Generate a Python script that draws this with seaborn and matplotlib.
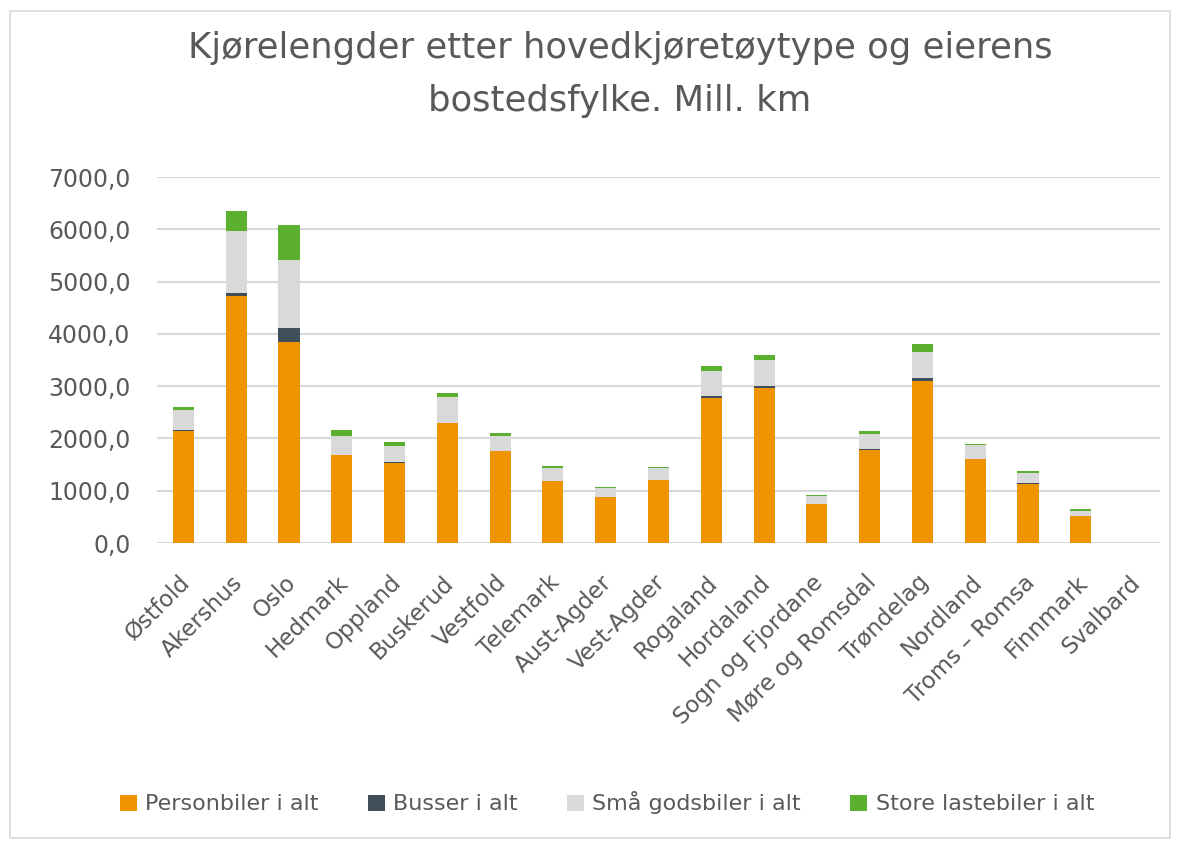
import numpy as np
import pandas as pd
import matplotlib
matplotlib.use("Agg")
import matplotlib.pyplot as plt
import matplotlib.patches as mpatches
import matplotlib.transforms as mtrans
from matplotlib.ticker import FuncFormatter
import seaborn as sns

fylker = ["Østfold", "Akershus", "Oslo", "Hedmark", "Oppland", "Buskerud", "Vestfold",
          "Telemark", "Aust-Agder", "Vest-Agder", "Rogaland", "Hordaland",
          "Sogn og Fjordane", "Møre og Romsdal", "Trøndelag", "Nordland",
          "Troms – Romsa", "Finnmark", "Svalbard"]
personbiler = [2140, 4730, 3850, 1675, 1535, 2288, 1758, 1185, 880, 1205, 2780, 2965,
               747, 1780, 3095, 1600, 1130, 510, 0]
busser = [15, 55, 255, 10, 8, 10, 8, 10, 5, 8, 28, 45, 5, 10, 62, 10, 8, 5, 0]
smaa_godsbiler = [380, 1190, 1300, 360, 320, 495, 285, 240, 170, 225, 480, 490,
                  150, 290, 500, 260, 210, 100, 0]
store_lastebiler = [60, 370, 670, 120, 64, 70, 57, 40, 20, 20, 100, 90, 25, 70,
                    145, 32, 32, 32, 0]
serier = ["Personbiler i alt", "Busser i alt", "Små godsbiler i alt", "Store lastebiler i alt"]
farger = ["#ED9400", "#3E4E5B", "#D9D9D9", "#5BB030"]
yticks = [0, 1000, 2000, 3000, 4000, 5000, 6000, 7000]

sns.set_theme(style="white")
plt.rcParams["font.family"] = ["DejaVu Sans"]

df = pd.DataFrame({"fylke": fylker, "p": personbiler, "b": busser,
                   "s": smaa_godsbiler, "l": store_lastebiler})
df["c1"] = df["p"]
df["c2"] = df["c1"] + df["b"]
df["c3"] = df["c2"] + df["s"]
df["c4"] = df["c3"] + df["l"]

W, H = 1179, 841
fig = plt.figure(figsize=(W / 100, H / 100), dpi=100)
ax = fig.add_axes([157 / W, 1 - 543 / H, (1160 - 157) / W, (543 - 177) / H])

for col, color in zip(["c4", "c3", "c2", "c1"], farger[::-1]):
    sns.barplot(data=df, x="fylke", y=col, color=color, width=0.4, ax=ax,
                saturation=1, edgecolor="none", linewidth=0, zorder=3)

ax.set_ylim(0, 7000)
ax.set_xlim(-0.5, len(fylker) - 0.5)
ax.set_yticks(yticks)
ax.yaxis.set_major_formatter(FuncFormatter(lambda v, p: f"{v:.1f}".replace(".", ",")))
ax.grid(axis="y", color="#D9D9D9", linewidth=1.5, zorder=0)
ax.grid(axis="x", visible=False)
for s in ax.spines.values():
    s.set_visible(False)
ax.set_xlabel("")
ax.set_ylabel("")
ax.tick_params(axis="y", length=0, pad=19, labelsize=17, labelcolor="#595959")
ax.tick_params(axis="x", length=0, pad=20, labelsize=16.5, labelcolor="#595959")
offset = mtrans.ScaledTranslation(-5 / 100, 0, fig.dpi_scale_trans)
for lab in ax.get_xticklabels():
    lab.set_rotation(45)
    lab.set_ha("right")
    lab.set_va("top")
    lab.set_rotation_mode("anchor")
    lab.set_transform(lab.get_transform() + offset)

fig.text(620 / W, 1 - 58 / H, "Kjørelengder etter hovedkjøretøytype og eierens",
         ha="center", va="baseline", fontsize=25.5, color="#595959")
fig.text(620 / W, 1 - 111 / H, "bostedsfylke. Mill. km",
         ha="center", va="baseline", fontsize=25.5, color="#595959")

handles = [mpatches.Patch(facecolor=c, edgecolor="none", label=l) for c, l in zip(farger, serier)]
fig.legend(handles=handles, loc="center", bbox_to_anchor=(607 / W, 1 - 803 / H), ncol=4,
           frameon=False, fontsize=16, handlelength=0.75, handleheight=0.75,
           handletextpad=0.4, columnspacing=2.2, labelcolor="#595959")

fig.patches.append(mpatches.Rectangle((10 / W, 3 / H), (1170 - 10) / W, (838 - 11) / H,
                                      transform=fig.transFigure, fill=False,
                                      edgecolor="#D9D9D9", linewidth=1.2))

fig.savefig("out.png", dpi=100, facecolor="white")
